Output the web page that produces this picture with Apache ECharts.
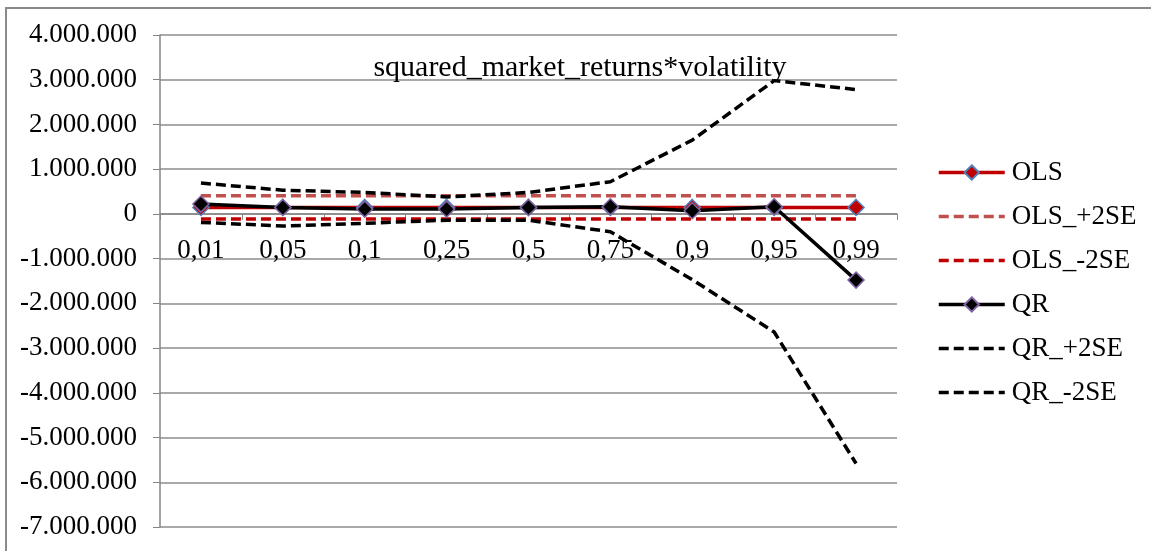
<!DOCTYPE html>
<html>
<head>
<meta charset="utf-8">
<script src="https://cdn.jsdelivr.net/npm/echarts@6/dist/echarts.min.js"></script>
<style>
  html, body { margin: 0; padding: 0; background: #fff; }
  #chart { width: 1151px; height: 551px; }
</style>
</head>
<body>
<div id="chart"></div>
<script>
// Quantiles on the category axis
const quantiles = ['0,01', '0,05', '0,1', '0,25', '0,5', '0,75', '0,9', '0,95', '0,99'];

// OLS estimate and its ±2 standard error band (constant across quantiles)
const ols      = [145000, 145000, 145000, 145000, 145000, 145000, 145000, 145000, 145000];
const olsPlus  = [405000, 405000, 405000, 405000, 405000, 405000, 405000, 405000, 405000];
const olsMinus = [-115000, -115000, -115000, -115000, -115000, -115000, -115000, -115000, -115000];

// Quantile regression estimate and its ±2 standard error band
const qr      = [220000, 145000, 107000, 107000, 145000, 160000, 70000, 160000, -1480000];
const qrPlus  = [690000, 530000, 480000, 380000, 480000, 720000, 1650000, 2980000, 2780000];
const qrMinus = [-190000, -270000, -210000, -140000, -140000, -400000, -1470000, -2640000, -5580000];

const FONT = '"Liberation Serif", "Times New Roman", serif';
const FS = 27;

const Y_MIN = -7000000, Y_MAX = 4000000;
const GRID = { left: 160, right: 254, top: 35, bottom: 24 };
const CHART_H = 551;

function fmtThousands(v) {
  const neg = v < 0;
  const s = Math.abs(Math.round(v)).toString().replace(/\B(?=(\d{3})+(?!\d))/g, '.');
  return (neg ? '-' : '') + s;
}

// Category axis sits on the zero line: shift it up from the grid bottom
const plotH = CHART_H - GRID.top - GRID.bottom;
const zeroFromBottom = plotH * (0 - Y_MIN) / (Y_MAX - Y_MIN);

const dash = [10, 5];
const LW = 3.5;
const noMarker = { color: 'rgba(0,0,0,0)', borderColor: 'rgba(0,0,0,0)', borderWidth: 0 };

const chart = echarts.init(document.getElementById('chart'), null, { renderer: 'canvas' });
chart.setOption({
  animation: false,
  backgroundColor: '#ffffff',
  title: {
    text: 'squared_market_returns*volatility',
    left: 575,
    top: 48,
    textAlign: 'center',
    textStyle: { fontFamily: FONT, fontSize: 30, fontWeight: 'normal', color: '#000' }
  },
  graphic: [{
    type: 'rect',
    shape: { x: 6, y: 8, width: 1300, height: 700 },
    style: { fill: 'none', stroke: '#8a8a8a', lineWidth: 2 },
    silent: true,
    z: -1
  }],
  legend: {
    orient: 'vertical',
    left: 932,
    top: 154,
    itemWidth: 66,
    itemHeight: 18,
    itemGap: 17,
    lineStyle: { width: LW },
    textStyle: { fontFamily: FONT, fontSize: FS, color: '#000', padding: [0, 0, 0, 2] },
    data: [
      { name: 'OLS' },
      { name: 'OLS_+2SE', itemStyle: noMarker },
      { name: 'OLS_-2SE', itemStyle: noMarker },
      { name: 'QR' },
      { name: 'QR_+2SE', itemStyle: noMarker },
      { name: 'QR_-2SE', itemStyle: noMarker }
    ]
  },
  grid: Object.assign({ containLabel: false }, GRID),
  xAxis: {
    type: 'category',
    data: quantiles,
    boundaryGap: true,
    offset: -zeroFromBottom,
    axisLine: { onZero: false, lineStyle: { color: '#868686', width: 1.5 } },
    axisTick: { show: true, length: 6, lineStyle: { color: '#868686' } },
    axisLabel: { fontFamily: FONT, fontSize: FS, color: '#000', margin: 23 },
    splitLine: { show: false },
    z: 1
  },
  yAxis: {
    type: 'value',
    min: Y_MIN,
    max: Y_MAX,
    interval: 1000000,
    axisLine: { show: true, lineStyle: { color: '#868686', width: 1.5 } },
    axisTick: { show: true, length: 7, lineStyle: { color: '#868686' } },
    axisLabel: { fontFamily: FONT, fontSize: FS, color: '#000', margin: 23, formatter: fmtThousands },
    splitLine: { show: true, lineStyle: { color: '#8c8c8c', width: 1.5 } }
  },
  series: [
    {
      name: 'OLS', type: 'line', data: ols,
      symbol: 'diamond', symbolSize: 16,
      itemStyle: { color: '#C00000', borderColor: '#4F81BD', borderWidth: 1.5 },
      lineStyle: { color: '#C00000', width: LW }
    },
    {
      name: 'OLS_+2SE', type: 'line', data: olsPlus,
      symbol: 'none',
      itemStyle: { color: '#C0504D' },
      lineStyle: { color: '#C0504D', width: LW, type: dash }
    },
    {
      name: 'OLS_-2SE', type: 'line', data: olsMinus,
      symbol: 'none',
      itemStyle: { color: '#C00000' },
      lineStyle: { color: '#C00000', width: LW, type: dash }
    },
    {
      name: 'QR', type: 'line', data: qr,
      symbol: 'diamond', symbolSize: 16,
      itemStyle: { color: '#000000', borderColor: '#8064A2', borderWidth: 1.5 },
      lineStyle: { color: '#000000', width: LW }
    },
    {
      name: 'QR_+2SE', type: 'line', data: qrPlus,
      symbol: 'none',
      itemStyle: { color: '#000000' },
      lineStyle: { color: '#000000', width: LW, type: dash }
    },
    {
      name: 'QR_-2SE', type: 'line', data: qrMinus,
      symbol: 'none',
      itemStyle: { color: '#000000' },
      lineStyle: { color: '#000000', width: LW, type: dash }
    }
  ]
});
</script>
</body>
</html>
